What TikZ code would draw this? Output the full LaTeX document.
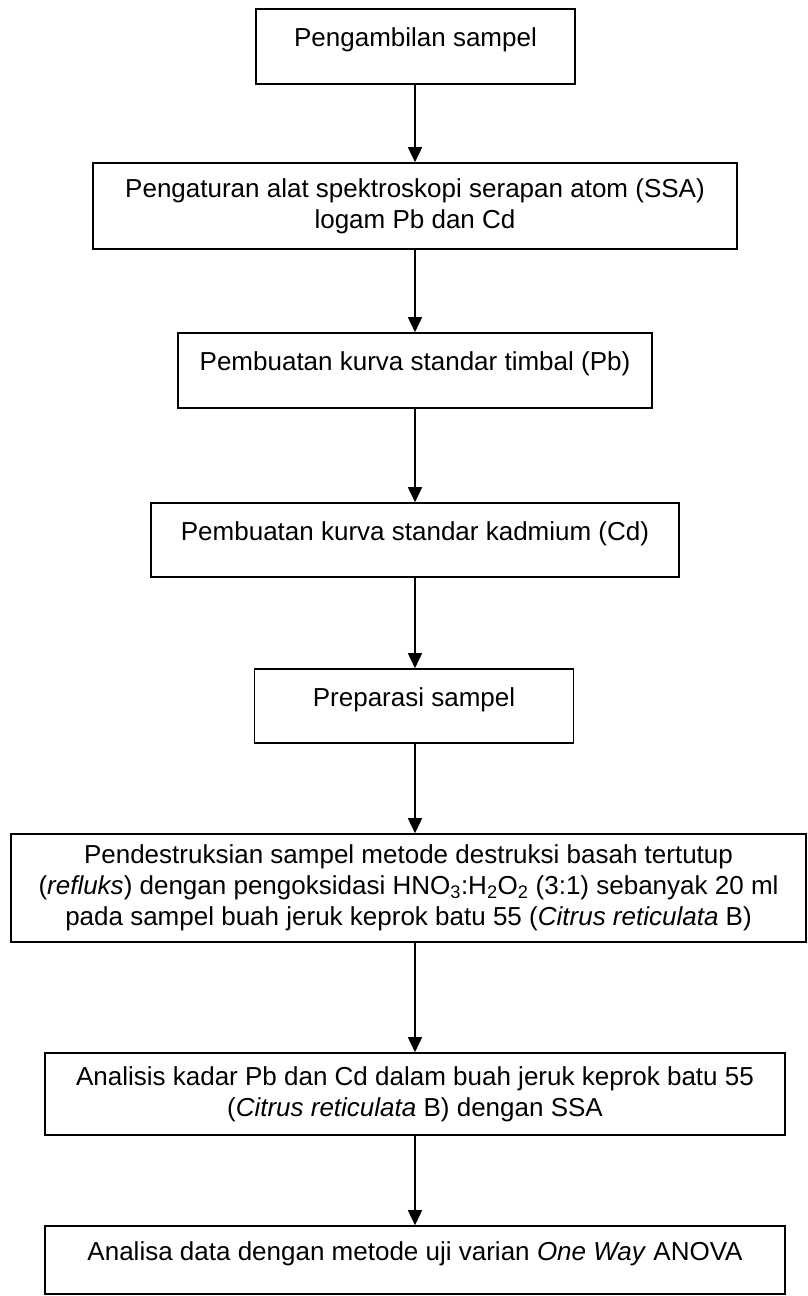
\documentclass[tikz,border=0pt]{standalone}
\usepackage{fontspec}
\setmainfont{Liberation Sans}
\usetikzlibrary{arrows.meta}

\begin{document}
\begin{tikzpicture}[x=1pt, y=-1pt,
    box/.style={draw, line width=1.6pt, align=center, inner sep=0pt,
        font=\fontsize{26}{31}\selectfont},
    oneline/.style={box, text height=19pt, text depth=19pt},
    flow/.style={-{Triangle[width=14pt,length=15pt]}, line width=1.6pt}]

    % Define the page and the line of the arrows
    \useasboundingbox (0,0) rectangle (807,1296);
    \coordinate (axis) at (415,0);

    % Draw the steps
    \node[oneline, line width=2.7pt, minimum width=319pt, minimum height=75pt] (ambil) at (415.5,46.5) {Pengambilan sampel};
    \node[box, minimum width=644pt, minimum height=86pt] (atur) at (415,206)
        {Pengaturan alat spektroskopi serapan atom (SSA)\\logam Pb dan Cd};
    \node[oneline, minimum width=474pt, minimum height=75pt] (kurvapb) at (415,370.5) {Pembuatan kurva standar timbal (Pb)};
    \node[oneline, minimum width=528pt, minimum height=74pt] (kurvacd) at (415,540) {Pembuatan kurva standar kadmium (Cd)};
    \node[oneline, minimum width=319pt, minimum height=74pt] (prep) at (414,706) {Preparasi sampel};
    \node[box, minimum width=795pt, minimum height=108pt] (destruksi) at (408.5,888)
        {Pendestruksian sampel metode destruksi basah tertutup\\
         (\textit{refluks}) dengan pengoksidasi HNO\textsubscript{3}:H\textsubscript{2}O\textsubscript{2} (3:1) sebanyak 20 ml\\
         pada sampel buah jeruk keprok batu 55 (\textit{Citrus reticulata} B)};
    \node[box, minimum width=740pt, minimum height=82pt] (analisis) at (415,1094)
        {Analisis kadar Pb dan Cd dalam buah jeruk keprok batu 55\\
         (\textit{Citrus reticulata} B) dengan SSA};
    \node[oneline, minimum width=740pt, minimum height=68pt] (anova) at (415,1260)
        {Analisa data dengan metode uji varian \textit{One Way} ANOVA};

    % Draw the arrows
    \draw[flow] (ambil.south -| axis) -- (atur.north -| axis);
    \draw[flow] (atur.south -| axis) -- (kurvapb.north -| axis);
    \draw[flow] (kurvapb.south -| axis) -- (kurvacd.north -| axis);
    \draw[flow] (kurvacd.south -| axis) -- (prep.north -| axis);
    \draw[flow] (prep.south -| axis) -- (destruksi.north -| axis);
    \draw[flow] (destruksi.south -| axis) -- (analisis.north -| axis);
    \draw[flow] (analisis.south -| axis) -- (anova.north -| axis);

\end{tikzpicture}
\end{document}
